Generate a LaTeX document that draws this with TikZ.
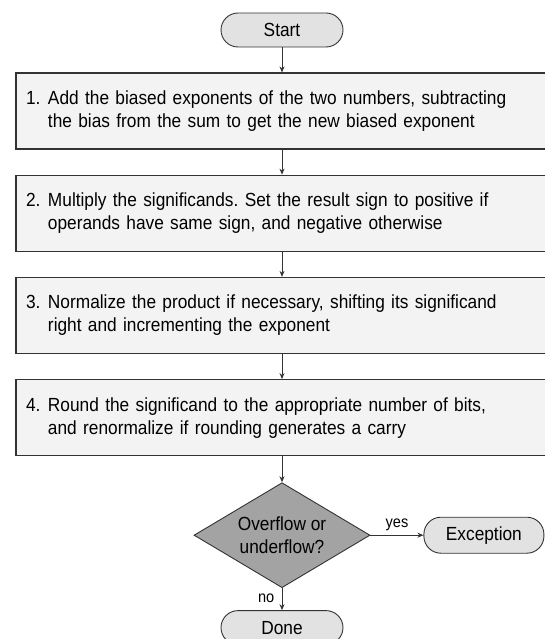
\documentclass[tikz,border=0pt]{standalone}
\usepackage{fontspec}
\setmainfont{Liberation Sans}[FakeStretch=0.91]
\usepackage{xcolor}
\usetikzlibrary{arrows.meta,positioning,shapes.geometric}
\definecolor{edgegray}{HTML}{333333}
\definecolor{boxfill}{HTML}{F3F3F3}
\definecolor{termfill}{HTML}{E2E2E2}
\definecolor{decfill}{HTML}{A3A3A3}
\frenchspacing
\newcommand{\stepitem}[2]{\makebox[22pt][l]{#1}\parbox[t]{480pt}{#2}}

\begin{document}
\begin{tikzpicture}[x=1pt, y=-1pt,
    term/.style={draw=edgegray, fill=termfill, line width=0.9pt, rounded corners=17pt,
      minimum width=122pt, minimum height=34pt, font=\fontsize{19}{22}\selectfont},
    stepbox/.style={draw=edgegray, fill=boxfill, line width=1.2pt, text width=512pt,
      inner xsep=10pt, minimum height=76pt, align=left, font=\fontsize{19}{23}\selectfont},
    decide/.style={diamond, draw=edgegray, fill=decfill, line width=0.9pt, aspect=1.68,
      minimum width=176pt, minimum height=105pt, inner sep=0pt, align=center,
      font=\fontsize{19}{23}\selectfont},
    link/.style={-{Stealth[length=6pt, width=5pt]}, line width=0.9pt, draw=edgegray},
    node distance=25pt]
\useasboundingbox (0,0) rectangle (545,639);
\node[term] (start) at (282,30) {Start};
\node[stepbox, below=of start] (add) {\stepitem{1.}{Add the biased exponents of the two numbers, subtracting\\
  the bias from the sum to get the new biased exponent}};
\node[stepbox, below=of add] (mult) {\stepitem{2.}{Multiply the significands. Set the result sign to positive if\\
  operands have same sign, and negative otherwise}};
\node[stepbox, below=of mult] (norm) {\stepitem{3.}{Normalize the product if necessary, shifting its significand\\
  right and incrementing the exponent}};
\node[stepbox, below=of norm] (round) {\stepitem{4.}{Round the significand to the appropriate number of bits,\\
  and renormalize if rounding generates a carry}};
\node[decide, below=26pt of round] (check) {Overflow or\\underflow?};
\node[term, right=53pt of check, minimum width=120pt, minimum height=36pt] (exc) {Exception};
\node[term, below=22pt of check] (done) {Done};
\draw[link] (start) -- (add);
\draw[link] (add) -- (mult);
\draw[link] (mult) -- (norm);
\draw[link] (norm) -- (round);
\draw[link] (round) -- (check);
\draw[link] (check) -- node[above=1pt, font=\fontsize{16}{18}\selectfont]{yes} (exc);
\draw[link] (check) -- node[left=4pt, pos=0.45, font=\fontsize{16}{18}\selectfont]{no} (done);
\end{tikzpicture}
\end{document}
